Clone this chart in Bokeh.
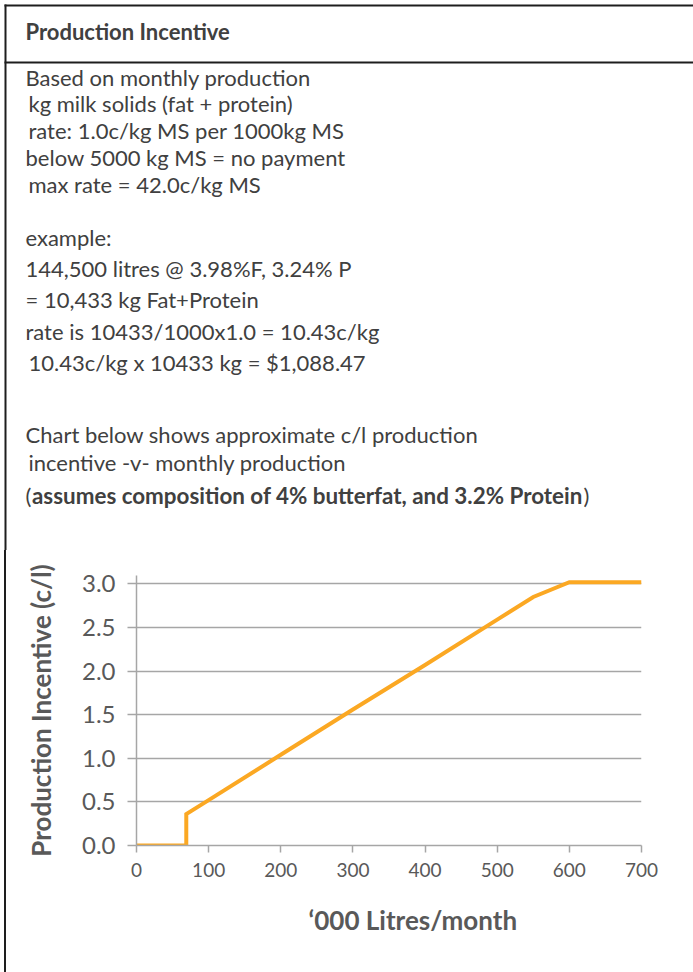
import math
from bokeh.plotting import figure
from bokeh.layouts import column, row
from bokeh.models import Range1d, FixedTicker, Title, Div
from bokeh.core.properties import value
from bokeh.embed import file_html
from bokeh.resources import INLINE

# ---------------- data ----------------
volume_k = [0, 69, 69, 100, 200, 300, 400, 500, 550, 600, 650, 700]
incentive = [0, 0, 0.36, 0.52, 1.04, 1.56, 2.07, 2.59, 2.85, 3.02, 3.02, 3.02]
x_ticks = [0, 100, 200, 300, 400, 500, 600, 700]
y_ticks = [0.0, 0.5, 1.0, 1.5, 2.0, 2.5, 3.0]
y_tick_labels = ["0.0", "0.5", "1.0", "1.5", "2.0", "2.5", "3.0"]

header = "Production Incentive"
intro_lines = [
    "Based on monthly production",
    "kg milk solids (fat + protein)",
    "rate: 1.0c/kg MS per 1000kg MS",
    "below 5000 kg MS = no payment",
    "max rate = 42.0c/kg MS",
]
example_lines = [
    "example:",
    "144,500 litres @ 3.98%F, 3.24% P",
    "= 10,433 kg Fat+Protein",
    "rate is 10433/1000x1.0 = 10.43c/kg",
    "10.43c/kg x 10433 kg = $1,088.47",
]
chart_lines = [
    "Chart below shows approximate c/l production",
    "incentive -v- monthly production",
]
assumes_text = "assumes composition of 4% butterfat, and 3.2% Protein"
y_title = "Production Incentive (c/l)"
x_title = "\u2018000 Litres/month"

FONT = "Lato"
TXT = "#404040"
AX = "#595959"
GRID = "#a6a6a6"
BORDER = "#1e1e1e"
ORANGE = "#FBA823"

W = 693
TOP_H = 550
BOT_H = 972 - TOP_H
STRIP_W = 6

# ---------------- top text block ----------------
t = figure(width=W, height=TOP_H, x_range=Range1d(0, W), y_range=Range1d(TOP_H, 0),
           output_backend="svg", toolbar_location=None, x_axis_type=None, y_axis_type=None,
           min_border=0, min_border_left=0, min_border_right=0, min_border_top=0, min_border_bottom=0)
t.outline_line_color = None
t.xgrid.visible = False
t.ygrid.visible = False
t.background_fill_color = "white"
t.border_fill_color = "white"

t.segment(x0=[4, 4, 5], y0=[5, 62, 4], x1=[W, W, 5], y1=[5, 62, TOP_H],
          line_color=BORDER, line_width=2)

t.text(x=[25], y=[31], text=[header], text_font=value(FONT), text_font_style="bold",
       text_font_size="22px", text_color=TXT, text_baseline="alphabetic")

body_size = "22px"
intro_x = [25, 28, 28, 25, 28]
intro_y = [77, 103, 130, 157, 184]
t.text(x=intro_x, y=intro_y, text=intro_lines, text_font=value(FONT), text_font_size=body_size,
       text_color=TXT, text_baseline="alphabetic")

ex_x = [25, 25, 25, 25, 28]
ex_y = [237, 268, 299, 331, 362]
t.text(x=ex_x, y=ex_y, text=example_lines, text_font=value(FONT), text_font_size=body_size,
       text_color=TXT, text_baseline="alphabetic")

ch_x = [25, 28]
ch_y = [434, 462]
t.text(x=ch_x, y=ch_y, text=chart_lines, text_font=value(FONT), text_font_size=body_size,
       text_color=TXT, text_baseline="alphabetic")

t.text(x=[25], y=[495], text=["("], text_font=value(FONT), text_font_size=body_size,
       text_color=TXT, text_baseline="alphabetic")
t.text(x=[31.5], y=[495], text=[assumes_text], text_font=value(FONT), text_font_style="bold",
       text_font_size="22.4px", text_color=TXT, text_baseline="alphabetic")
t.text(x=[583], y=[495], text=[")"], text_font=value(FONT), text_font_size=body_size,
       text_color=TXT, text_baseline="alphabetic")

# ---------------- left border strip ----------------
strip = Div(text="", width=STRIP_W, height=BOT_H, margin=0,
            styles={"background": "linear-gradient(to right, #ffffff 0px, #ffffff 4px, "
                                  "#1e1e1e 4px, #1e1e1e 6px)"})

# ---------------- chart ----------------
FX0, FX1 = 136.3, 641.3
FY_TOP, FY_BOT = 574.7, 845.3
Y_MAX = 3.096

c = figure(width=W - STRIP_W, height=BOT_H, x_range=Range1d(0, 700), y_range=Range1d(0, Y_MAX),
           output_backend="svg", toolbar_location=None,
           min_border_left=int(round(FX0 - STRIP_W)), min_border_right=int(round(W - FX1)),
           min_border_top=int(round(FY_TOP - TOP_H)), min_border_bottom=int(round(972 - FY_BOT)))
c.outline_line_color = None
c.xgrid.visible = False
c.ygrid.ticker = FixedTicker(ticks=y_ticks[1:])
c.ygrid.grid_line_color = GRID
c.ygrid.grid_line_width = 1.5

c.xaxis.ticker = FixedTicker(ticks=x_ticks)
c.yaxis.ticker = FixedTicker(ticks=y_ticks)
c.yaxis.major_label_overrides = {v: l for v, l in zip(y_ticks, y_tick_labels)}
for ax in (c.xaxis[0], c.yaxis[0]):
    ax.axis_line_color = GRID
    ax.axis_line_width = 1.5
    ax.major_tick_line_color = GRID
    ax.major_tick_line_width = 1.5
    ax.major_tick_in = 0
    ax.minor_tick_line_color = None
    ax.major_label_text_color = AX
    ax.major_label_text_font = FONT
c.xaxis.major_tick_out = 7
c.yaxis.major_tick_out = 9
c.xaxis.major_label_text_font_size = "19px"
c.yaxis.major_label_text_font_size = "24px"
c.xaxis.major_label_standoff = 10
c.yaxis.major_label_standoff = 12

c.yaxis.axis_label = y_title
c.yaxis.axis_label_text_font = FONT
c.yaxis.axis_label_text_font_style = "bold"
c.yaxis.axis_label_text_font_size = "26px"
c.yaxis.axis_label_text_color = AX
c.yaxis.axis_label_standoff = 22

c.line(volume_k, incentive, line_color=ORANGE, line_width=4, line_join="miter")

c.add_layout(Title(text=x_title, align="left", offset=172, standoff=44,
                   text_font=FONT, text_font_style="bold", text_font_size="26px",
                   text_color=AX), "below")

layout = column(t, row(strip, c, spacing=0), spacing=0)
layout.styles = {"position": "absolute", "left": "0px", "top": "0px"}

open("out.html", "w").write(file_html(layout, INLINE))
